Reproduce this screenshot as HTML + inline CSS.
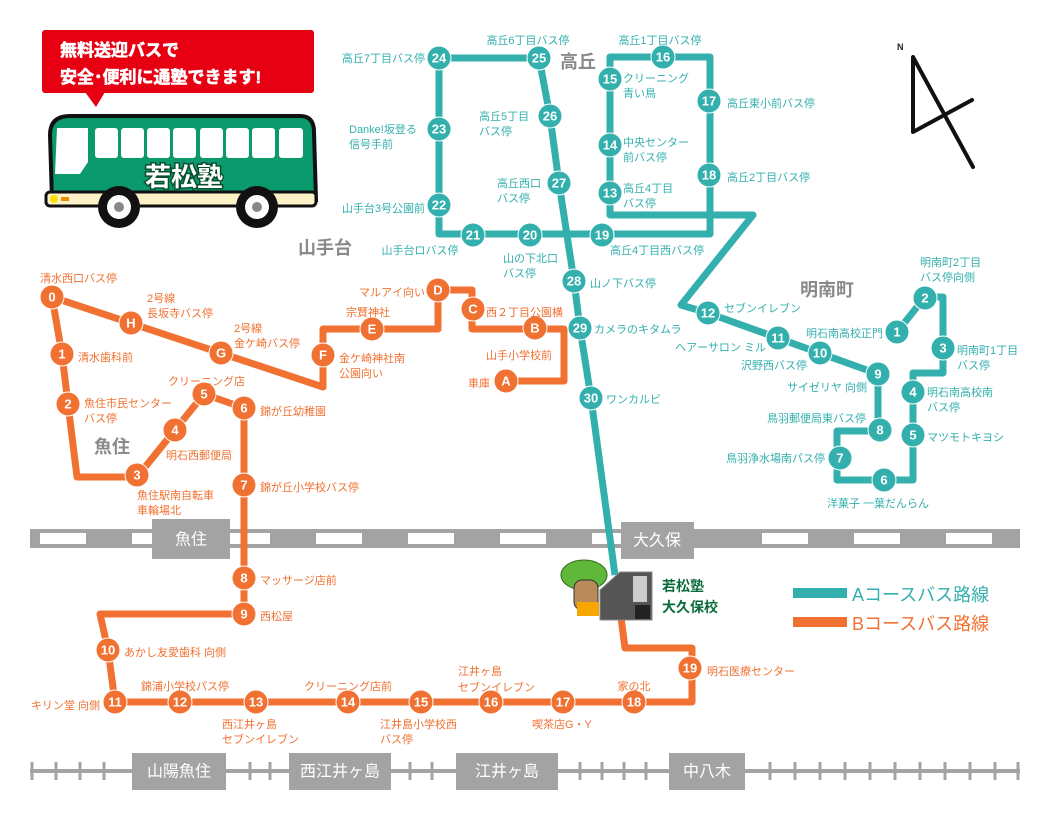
<!DOCTYPE html>
<html><head><meta charset="utf-8"><style>
body{margin:0;background:#fff}
svg{display:block;font-family:"Liberation Sans","Noto Sans CJK JP",sans-serif}
.t{fill:#33b0ad;font-size:11px}
.o{fill:#f07132;font-size:11px}
.g{fill:#8a8a8a;font-size:18px;font-weight:bold}
.n{fill:#fff;font-size:13px;font-weight:bold;text-anchor:middle;dominant-baseline:central}
.s{fill:#fff;font-size:16px;text-anchor:middle;dominant-baseline:central}
</style></head><body>
<svg width="1050" height="825" viewBox="0 0 1050 825" xmlns="http://www.w3.org/2000/svg">
<!-- upper railway -->
<rect x="30" y="529" width="990" height="19" fill="#a3a3a3"/>
<g fill="#fff">
<rect x="40" y="533" width="46" height="11"/><rect x="132" y="533" width="46" height="11"/><rect x="224" y="533" width="46" height="11"/><rect x="316" y="533" width="46" height="11"/><rect x="408" y="533" width="46" height="11"/><rect x="500" y="533" width="46" height="11"/><rect x="592" y="533" width="46" height="11"/><rect x="762" y="533" width="46" height="11"/><rect x="854" y="533" width="46" height="11"/><rect x="946" y="533" width="46" height="11"/>
</g>
<rect x="152" y="519" width="78" height="40" fill="#a3a3a3"/><text x="191" y="540" class="s">魚住</text>
<rect x="621" y="522" width="73" height="37" fill="#a3a3a3"/><text x="657" y="541" class="s">大久保</text>
<!-- lower railway -->
<rect x="30" y="769" width="990" height="4" fill="#a3a3a3"/>
<g stroke="#a3a3a3" stroke-width="3">
<line x1="32" y1="762" x2="32" y2="780"/><line x1="56" y1="762" x2="56" y2="780"/><line x1="80" y1="762" x2="80" y2="780"/><line x1="104" y1="762" x2="104" y2="780"/>
<line x1="250" y1="762" x2="250" y2="780"/><line x1="270" y1="762" x2="270" y2="780"/>
<line x1="410" y1="762" x2="410" y2="780"/><line x1="432" y1="762" x2="432" y2="780"/>
<line x1="580" y1="762" x2="580" y2="780"/><line x1="602" y1="762" x2="602" y2="780"/><line x1="624" y1="762" x2="624" y2="780"/><line x1="646" y1="762" x2="646" y2="780"/>
<line x1="770" y1="762" x2="770" y2="780"/><line x1="795" y1="762" x2="795" y2="780"/><line x1="820" y1="762" x2="820" y2="780"/><line x1="845" y1="762" x2="845" y2="780"/><line x1="870" y1="762" x2="870" y2="780"/><line x1="895" y1="762" x2="895" y2="780"/><line x1="920" y1="762" x2="920" y2="780"/><line x1="945" y1="762" x2="945" y2="780"/><line x1="970" y1="762" x2="970" y2="780"/><line x1="995" y1="762" x2="995" y2="780"/><line x1="1018" y1="762" x2="1018" y2="780"/>
</g>
<rect x="132" y="753" width="94" height="37" fill="#a3a3a3"/><text x="179" y="772" class="s">山陽魚住</text>
<rect x="289" y="753" width="102" height="37" fill="#a3a3a3"/><text x="340" y="772" class="s">西江井ヶ島</text>
<rect x="456" y="753" width="102" height="37" fill="#a3a3a3"/><text x="507" y="772" class="s">江井ヶ島</text>
<rect x="669" y="753" width="76" height="37" fill="#a3a3a3"/><text x="707" y="772" class="s">中八木</text>

<!-- A route teal -->
<g fill="none" stroke="#33b0ad" stroke-width="7" stroke-linejoin="round">
<polyline points="439,205 439,58 539,58 550,116 559,183 574,281 580,328 591,398 615,575"/>
<polyline points="439,205 439,234 710,234 710,57 610,57 610,215 753,215 681,305 708,313 878,374 878,431 837,431 837,480 913,480 913,373 943,373 943,297 925,297 897,332"/>
</g>
<!-- B route orange -->
<g fill="none" stroke="#f07132" stroke-width="7" stroke-linejoin="round">
<polyline points="506,381 564,381 564,329 472,329 472,290 438,290 438,329 323,329 323,387 52,297 62,354 68,404 77,477 137,477 175,430 204,394 244,408 244,614 100,614 108,650 115,702 692,702 692,648 625,648 620,610"/>
</g>

<!-- teal stops -->
<g fill="#33b0ad" stroke="#fff" stroke-width="1">
<circle cx="439" cy="58" r="12"/><circle cx="539" cy="58" r="12"/><circle cx="663" cy="57" r="12"/>
<circle cx="610" cy="79" r="12"/><circle cx="709" cy="101" r="12"/><circle cx="550" cy="116" r="12"/>
<circle cx="439" cy="129" r="12"/><circle cx="610" cy="145" r="12"/><circle cx="709" cy="175" r="12"/>
<circle cx="559" cy="183" r="12"/><circle cx="610" cy="193" r="12"/><circle cx="439" cy="205" r="12"/>
<circle cx="473" cy="235" r="12"/><circle cx="530" cy="235" r="12"/><circle cx="602" cy="235" r="12"/>
<circle cx="574" cy="281" r="12"/><circle cx="580" cy="328" r="12"/><circle cx="591" cy="398" r="12"/>
<circle cx="708" cy="313" r="12"/><circle cx="778" cy="338" r="12"/><circle cx="820" cy="353" r="12"/>
<circle cx="878" cy="374" r="12"/><circle cx="880" cy="430" r="12"/><circle cx="840" cy="458" r="12"/>
<circle cx="884" cy="480" r="12"/><circle cx="913" cy="435" r="12"/><circle cx="913" cy="392" r="12"/>
<circle cx="943" cy="348" r="12"/><circle cx="925" cy="298" r="12"/><circle cx="897" cy="332" r="12"/>
</g>
<g>
<text class="n" x="439" y="58">24</text><text class="n" x="539" y="58">25</text><text class="n" x="663" y="57">16</text>
<text class="n" x="610" y="79">15</text><text class="n" x="709" y="101">17</text><text class="n" x="550" y="116">26</text>
<text class="n" x="439" y="129">23</text><text class="n" x="610" y="145">14</text><text class="n" x="709" y="175">18</text>
<text class="n" x="559" y="183">27</text><text class="n" x="610" y="193">13</text><text class="n" x="439" y="205">22</text>
<text class="n" x="473" y="235">21</text><text class="n" x="530" y="235">20</text><text class="n" x="602" y="235">19</text>
<text class="n" x="574" y="281">28</text><text class="n" x="580" y="328">29</text><text class="n" x="591" y="398">30</text>
<text class="n" x="708" y="313">12</text><text class="n" x="778" y="338">11</text><text class="n" x="820" y="353">10</text>
<text class="n" x="878" y="374">9</text><text class="n" x="880" y="430">8</text><text class="n" x="840" y="458">7</text>
<text class="n" x="884" y="480">6</text><text class="n" x="913" y="435">5</text><text class="n" x="913" y="392">4</text>
<text class="n" x="943" y="348">3</text><text class="n" x="925" y="298">2</text><text class="n" x="897" y="332">1</text>
</g>

<!-- orange stops -->
<g fill="#f07132" stroke="#fff" stroke-width="1">
<circle cx="52" cy="297" r="12"/><circle cx="131" cy="323" r="12"/><circle cx="221" cy="353" r="12"/>
<circle cx="323" cy="355" r="12"/><circle cx="372" cy="329" r="12"/><circle cx="438" cy="290" r="12"/>
<circle cx="473" cy="309" r="12"/><circle cx="535" cy="328" r="12"/><circle cx="506" cy="381" r="12"/>
<circle cx="62" cy="354" r="12"/><circle cx="68" cy="404" r="12"/><circle cx="137" cy="475" r="12"/>
<circle cx="175" cy="430" r="12"/><circle cx="204" cy="394" r="12"/><circle cx="244" cy="408" r="12"/>
<circle cx="244" cy="485" r="12"/><circle cx="244" cy="578" r="12"/><circle cx="244" cy="614" r="12"/>
<circle cx="108" cy="650" r="12"/><circle cx="115" cy="702" r="12"/><circle cx="180" cy="702" r="12"/>
<circle cx="256" cy="702" r="12"/><circle cx="348" cy="702" r="12"/><circle cx="421" cy="702" r="12"/>
<circle cx="491" cy="702" r="12"/><circle cx="563" cy="702" r="12"/><circle cx="634" cy="702" r="12"/>
<circle cx="690" cy="668" r="12"/>
</g>
<g>
<text class="n" x="52" y="297">0</text><text class="n" x="131" y="323">H</text><text class="n" x="221" y="353">G</text>
<text class="n" x="323" y="355">F</text><text class="n" x="372" y="329">E</text><text class="n" x="438" y="290">D</text>
<text class="n" x="473" y="309">C</text><text class="n" x="535" y="328">B</text><text class="n" x="506" y="381">A</text>
<text class="n" x="62" y="354">1</text><text class="n" x="68" y="404">2</text><text class="n" x="137" y="475">3</text>
<text class="n" x="175" y="430">4</text><text class="n" x="204" y="394">5</text><text class="n" x="244" y="408">6</text>
<text class="n" x="244" y="485">7</text><text class="n" x="244" y="578">8</text><text class="n" x="244" y="614">9</text>
<text class="n" x="108" y="650">10</text><text class="n" x="115" y="702">11</text><text class="n" x="180" y="702">12</text>
<text class="n" x="256" y="702">13</text><text class="n" x="348" y="702">14</text><text class="n" x="421" y="702">15</text>
<text class="n" x="491" y="702">16</text><text class="n" x="563" y="702">17</text><text class="n" x="634" y="702">18</text>
<text class="n" x="690" y="668">19</text>
</g>

<!-- teal labels -->
<g class="t">
<text x="425" y="62" text-anchor="end">高丘7丁目バス停</text>
<text x="528" y="44" text-anchor="middle">高丘6丁目バス停</text>
<text x="660" y="44" text-anchor="middle">高丘1丁目バス停</text>
<text x="623" y="82">クリーニング</text><text x="623" y="97">青い鳥</text>
<text x="479" y="120">高丘5丁目</text><text x="479" y="135">バス停</text>
<text x="349" y="133">Danke!坂登る</text><text x="349" y="148">信号手前</text>
<text x="623" y="146">中央センター</text><text x="623" y="161">前バス停</text>
<text x="727" y="107">高丘東小前バス停</text>
<text x="497" y="187">高丘西口</text><text x="497" y="202">バス停</text>
<text x="623" y="192">高丘4丁目</text><text x="623" y="207">バス停</text>
<text x="727" y="181">高丘2丁目バス停</text>
<text x="425" y="212" text-anchor="end">山手台3号公園前</text>
<text x="420" y="254" text-anchor="middle">山手台ロバス停</text>
<text x="503" y="262">山の下北口</text><text x="503" y="277">バス停</text>
<text x="610" y="254">高丘4丁目西バス停</text>
<text x="590" y="287">山ノ下バス停</text>
<text x="594" y="333">カメラのキタムラ</text>
<text x="606" y="403">ワンカルビ</text>
<text x="724" y="312">セブンイレブン</text>
<text x="766" y="351" text-anchor="end">ヘアーサロン ミル</text>
<text x="883" y="337" text-anchor="end">明石南高校正門</text>
<text x="807" y="369" text-anchor="end">沢野西バス停</text>
<text x="867" y="391" text-anchor="end">サイゼリヤ 向側</text>
<text x="866" y="422" text-anchor="end">鳥羽郵便局東バス停</text>
<text x="825" y="462" text-anchor="end">鳥羽浄水場南パス停</text>
<text x="878" y="507" text-anchor="middle">洋菓子 一葉だんらん</text>
<text x="927" y="441">マツモトキヨシ</text>
<text x="927" y="396">明石南高校南</text><text x="927" y="411">バス停</text>
<text x="957" y="354">明南町1丁目</text><text x="957" y="369">バス停</text>
<text x="920" y="266">明南町2丁目</text><text x="920" y="281">バス停向側</text>
</g>
<text x="560" y="68" class="g">高丘</text>
<text x="298" y="254" class="g">山手台</text>
<text x="800" y="296" class="g">明南町</text>
<text x="94" y="453" class="g">魚住</text>

<!-- orange labels -->
<g class="o">
<text x="40" y="282">清水西口バス停</text>
<text x="147" y="302">2号線</text><text x="147" y="317">長坂寺バス停</text>
<text x="234" y="332">2号線</text><text x="234" y="347">金ケ崎バス停</text>
<text x="78" y="361">清水歯科前</text>
<text x="84" y="407">魚住市民センター</text><text x="84" y="422">バス停</text>
<text x="168" y="385">クリーニング店</text>
<text x="260" y="415">錦が丘幼稚園</text>
<text x="166" y="459">明石西郵便局</text>
<text x="137" y="499">魚住駅南自転車</text><text x="137" y="514">車輪場北</text>
<text x="260" y="491">錦が丘小学校バス停</text>
<text x="425" y="296" text-anchor="end">マルアイ向い</text>
<text x="346" y="316">宗賢神社</text>
<text x="339" y="362">金ケ崎神社南</text><text x="339" y="377">公園向い</text>
<text x="486" y="316">西２丁目公園横</text>
<text x="486" y="359">山手小学校前</text>
<text x="490" y="387" text-anchor="end">車庫</text>
<text x="260" y="584">マッサージ店前</text>
<text x="260" y="620">西松屋</text>
<text x="124" y="656">あかし友愛歯科 向側</text>
<text x="100" y="709" text-anchor="end">キリン堂 向側</text>
<text x="185" y="690" text-anchor="middle">錦浦小学校パス停</text>
<text x="222" y="728">西江井ヶ島</text><text x="222" y="743">セブンイレブン</text>
<text x="348" y="690" text-anchor="middle">クリーニング店前</text>
<text x="380" y="728">江井島小学校西</text><text x="380" y="743">バス停</text>
<text x="458" y="675">江井ヶ島</text><text x="458" y="691">セブンイレブン</text>
<text x="532" y="728">喫茶店G・Y</text>
<text x="634" y="690" text-anchor="middle">家の北</text>
<text x="707" y="675">明石医療センター</text>
</g>

<!-- bus + bubble -->
<rect x="42" y="30" width="272" height="63" rx="3" fill="#e60012"/>
<polygon points="85,92 105,92 96,107" fill="#e60012"/>
<text x="60" y="56" fill="#fff" font-size="17" font-weight="bold" stroke="#fff" stroke-width="0.6">無料送迎バスで</text>
<text x="60" y="83" fill="#fff" font-size="17" font-weight="bold" stroke="#fff" stroke-width="0.6">安全･便利に通塾できます!</text>
<path d="M52,200 L50,135 Q50,116 70,116 L300,116 Q314,116 314,132 L316,200 Z" fill="#0a9a6d" stroke="#111" stroke-width="4"/>
<rect x="46" y="192" width="270" height="14" rx="4" fill="#fdf1c8" stroke="#111" stroke-width="3"/>
<path d="M57,128 L88,128 L88,162 L80,174 L55,174 Z" fill="#fff"/>
<g fill="#fff">
<rect x="95" y="128" width="23" height="30" rx="3"/><rect x="121" y="128" width="23" height="30" rx="3"/><rect x="147" y="128" width="23" height="30" rx="3"/><rect x="173" y="128" width="23" height="30" rx="3"/><rect x="200" y="128" width="23" height="30" rx="3"/><rect x="226" y="128" width="23" height="30" rx="3"/><rect x="252" y="128" width="23" height="30" rx="3"/><rect x="279" y="128" width="24" height="30" rx="3"/>
</g>
<text x="184" y="186" text-anchor="middle" fill="#fff" stroke="#0a4f2d" stroke-width="3" paint-order="stroke" font-size="26" font-weight="bold">若松塾</text>
<circle cx="54" cy="199" r="4" fill="#ffe100"/><rect x="61" y="197" width="8" height="4" fill="#f08a00"/>
<circle cx="119" cy="207" r="21" fill="#111"/><circle cx="119" cy="207" r="12" fill="#fff"/><circle cx="119" cy="207" r="5" fill="#888"/>
<circle cx="257" cy="207" r="21" fill="#111"/><circle cx="257" cy="207" r="12" fill="#fff"/><circle cx="257" cy="207" r="5" fill="#888"/>

<!-- north arrow -->
<text x="897" y="50" font-size="9" font-weight="bold" fill="#222">N</text>
<polyline points="973,167 913,57 913,132 972,100" fill="none" stroke="#111" stroke-width="4" stroke-linejoin="round" stroke-linecap="round"/>

<!-- school -->
<ellipse cx="584" cy="575" rx="23" ry="15" fill="#5fb83a" stroke="#2f6b1c"/>
<rect x="574" y="580" width="24" height="30" rx="8" fill="#b98a5a" stroke="#333"/>
<rect x="577" y="602" width="22" height="14" fill="#f7a600"/>
<polygon points="600,590 620,572 652,572 652,620 600,620" fill="#555" stroke="#888"/>
<rect x="633" y="576" width="14" height="26" fill="#ccc"/>
<rect x="635" y="605" width="15" height="14" fill="#222"/>
<text x="662" y="591" fill="#0a6b3a" font-size="14" font-weight="bold">若松塾</text>
<text x="662" y="612" fill="#0a6b3a" font-size="14" font-weight="bold">大久保校</text>

<!-- legend -->
<rect x="793" y="588" width="54" height="10" fill="#33b0ad"/>
<text x="852" y="601" fill="#33b0ad" font-size="18">Aコースバス路線</text>
<rect x="793" y="617" width="54" height="10" fill="#f07132"/>
<text x="852" y="630" fill="#f07132" font-size="18">Bコースバス路線</text>
</svg>
</body></html>
